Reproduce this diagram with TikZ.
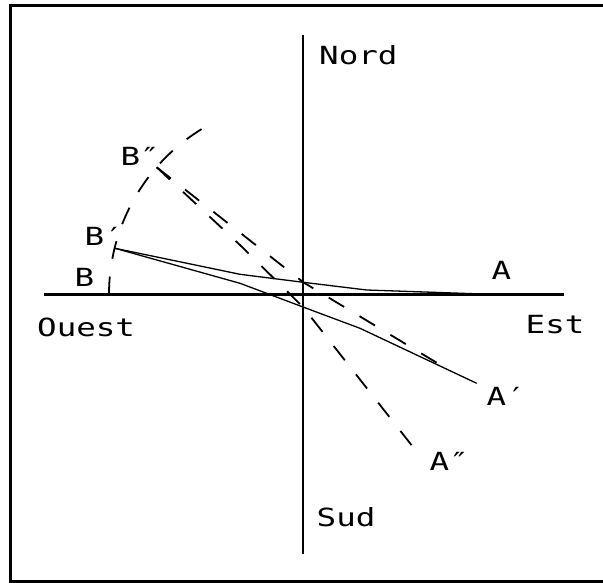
\documentclass[tikz,border=0pt]{standalone}
\usepackage{fontspec}
\newfontfamily\plotfont{DejaVu Sans Mono}[FakeStretch=1.3]
\usetikzlibrary{positioning}

\begin{document}
\begin{tikzpicture}[x=1pt, y=-1pt,
  lbl/.style={anchor=base west, inner sep=0pt, font=\plotfont\fontsize{25}{28}\selectfont},
  axis/.style={line width=2.2pt},
  path/.style={line width=1.3pt, line join=round},
  dpath/.style={line width=1.8pt, dash pattern=on 18pt off 18pt, line join=round}]
\useasboundingbox (0,0) rectangle (603,583);
% frame
\draw[line width=2.5pt] (10.5,5.5) rectangle (612,581.5);
% axes
\coordinate (O) at (303,294.5);
\coordinate (n) at (303,35);   \coordinate (s) at (303,554);
\coordinate (w) at (44,294.5); \coordinate (e) at (564,294.5);
\draw[axis] (n) -- (s);
\draw[axis] (w) -- (e);
\node[lbl] (nord) at (319,65) {Nord};
\node[lbl] (sud) at (316.5,526.7) {Sud};
\node[lbl] (ouest) at (37,336.7) {Ouest};
\node[lbl] (est) at (525.5,333.3) {Est};
% points on the circle
\coordinate (B) at (109,294.5);
\coordinate (B1) at (115,248.3);
\coordinate (B2) at (156.7,167.3);
\coordinate (A) at (497,294.5);
\coordinate (A1) at (476.7,383.3);
\coordinate (A2) at (416.7,451.7);
\coordinate (E) at (443.3,366.7);
\coordinate (cu) at (303.3,282.3);
\coordinate (cd) at (303,307);
% dashed arc from B upwards
\draw[dpath] (O) ++(180:194) arc[start angle=-180, end angle=-120, radius=194];
% solid paths
\draw[path] (B1) -- (240,274.3) -- (cu) -- (366.7,290) -- (A);
\draw[path] (B1) -- (240,283.3) -- (cd) -- (360,328.3) -- (A1);
% dashed paths
\draw[dpath] (B2) -- (cu) -- (E);
\draw[dpath] (B2) -- (240,245) -- (cd) -- (A2);
% labels
\node[lbl] (lB) at (74.3,286) {B};
\node[lbl] (lB1) at (84.3,246) {B′};
\node[lbl] (lB2) at (120.3,166) {B″};
\node[lbl] (lA) at (491.5,279.3) {A};
\node[lbl] (lA1) at (486.5,405.7) {A′};
\node[lbl] (lA2) at (429.5,470.7) {A″};
\end{tikzpicture}
\end{document}
